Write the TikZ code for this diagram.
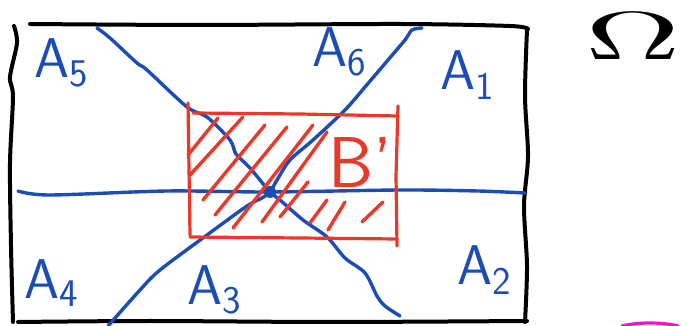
\documentclass[tikz,border=0pt]{standalone}
\usepackage{amsmath,amssymb}
\usepackage{tikz}
\usetikzlibrary{calc}

\definecolor{penblue}{RGB}{28,76,182}
\definecolor{penred}{RGB}{236,56,42}
\definecolor{penpink}{RGB}{245,20,205}

\begin{document}
\begin{tikzpicture}[
  x=0.5pt,y=0.5pt,
  line cap=round,line join=round,
  frame/.style={line width=2pt,black},
  part/.style={line width=1.7pt,penblue},
  setb/.style={line width=1.6pt,penred},
  hatch/.style={line width=1.7pt,penred},
  lab/.style={penblue,font=\fontsize{28}{28}\selectfont\sffamily,inner sep=0pt},
  big/.style={penred,font=\fontsize{36}{36}\selectfont\sffamily,inner sep=0pt}
]
  \useasboundingbox (0,0) rectangle (690,326);

  % sample space
  \draw[frame] plot[smooth] coordinates {(30,302) (200,301) (400,302) (510,300) (528,297)};
  \draw[frame] plot[smooth] coordinates {(527,296) (525,230) (528,170) (524,120) (527,60) (525,4)};
  \draw[frame] plot[smooth] coordinates {(18,4) (150,5) (330,4) (527,5)};
  \draw[frame] plot[smooth] coordinates {(14,300) (17,283) (10,249) (13,229) (10,163) (11,80) (13,4)};

  % partition
  \coordinate (c) at (270,134);
  \draw[part] plot[smooth] coordinates {(18,135) (50,131) (167,135) (c) (400,136) (478,135) (525,133)};
  \draw[part] plot[smooth] coordinates {(97,298) (110,288) (137,263) (147,256) (187,219) (207,209)
    (230,186) (236,172) (250,158) (c) (280,126) (303,106) (327,89) (345,68) (365,53) (377,30) (385,20) (400,10)};
  \draw[part] plot[smooth] coordinates {(422,298) (412,296) (405,286) (388,266) (365,239) (345,216)
    (313,186) (290,166) (277,146) (c) (262,128) (247,120) (207,91) (160,56) (140,36) (108,0)};
  \fill[penblue] (c) circle (6);

  % the set B'
  \draw[setb] (188,223) -- (190,91);
  \draw[setb] (193,213) -- (300,212) -- (398,210);
  \draw[setb] (190,89) -- (300,88) -- (397,87);
  \draw[setb] (398,220) -- (396,150) -- (397,80);
  \foreach \xa/\ya/\xb/\yb in {188/171/218/208, 190/151/243/209, 203/126/265/201,
      215/111/287/199, 233/98/313/201, 262/104/327/194, 280/109/308/144,
      310/103/327/126, 328/96/345/124, 362/104/383/124}
    \draw[hatch] (\xa,\ya) -- (\xb,\yb);

  % labels
  \node[lab] (a5) at (62,263) {A\textsubscript{5}};
  \node[lab] (a6) at (340,274) {A\textsubscript{6}};
  \node[lab] (a1) at (468,251) {A\textsubscript{1}};
  \node[lab] (a4) at (52,43) {A\textsubscript{4}};
  \node[lab] (a3) at (215,36) {A\textsubscript{3}};
  \node[lab] (a2) at (485,56) {A\textsubscript{2}};
  \node[big] (b) at (360,163) {B'};
  \node[inner sep=0pt,xscale=6.6,yscale=3.4] (omega) at (633,290) {$\Omega$};

  % stray stroke
  \draw[line width=1.6pt,penpink] (622,0) .. controls (638,4) and (662,4) .. (678,0);
\end{tikzpicture}
\end{document}
